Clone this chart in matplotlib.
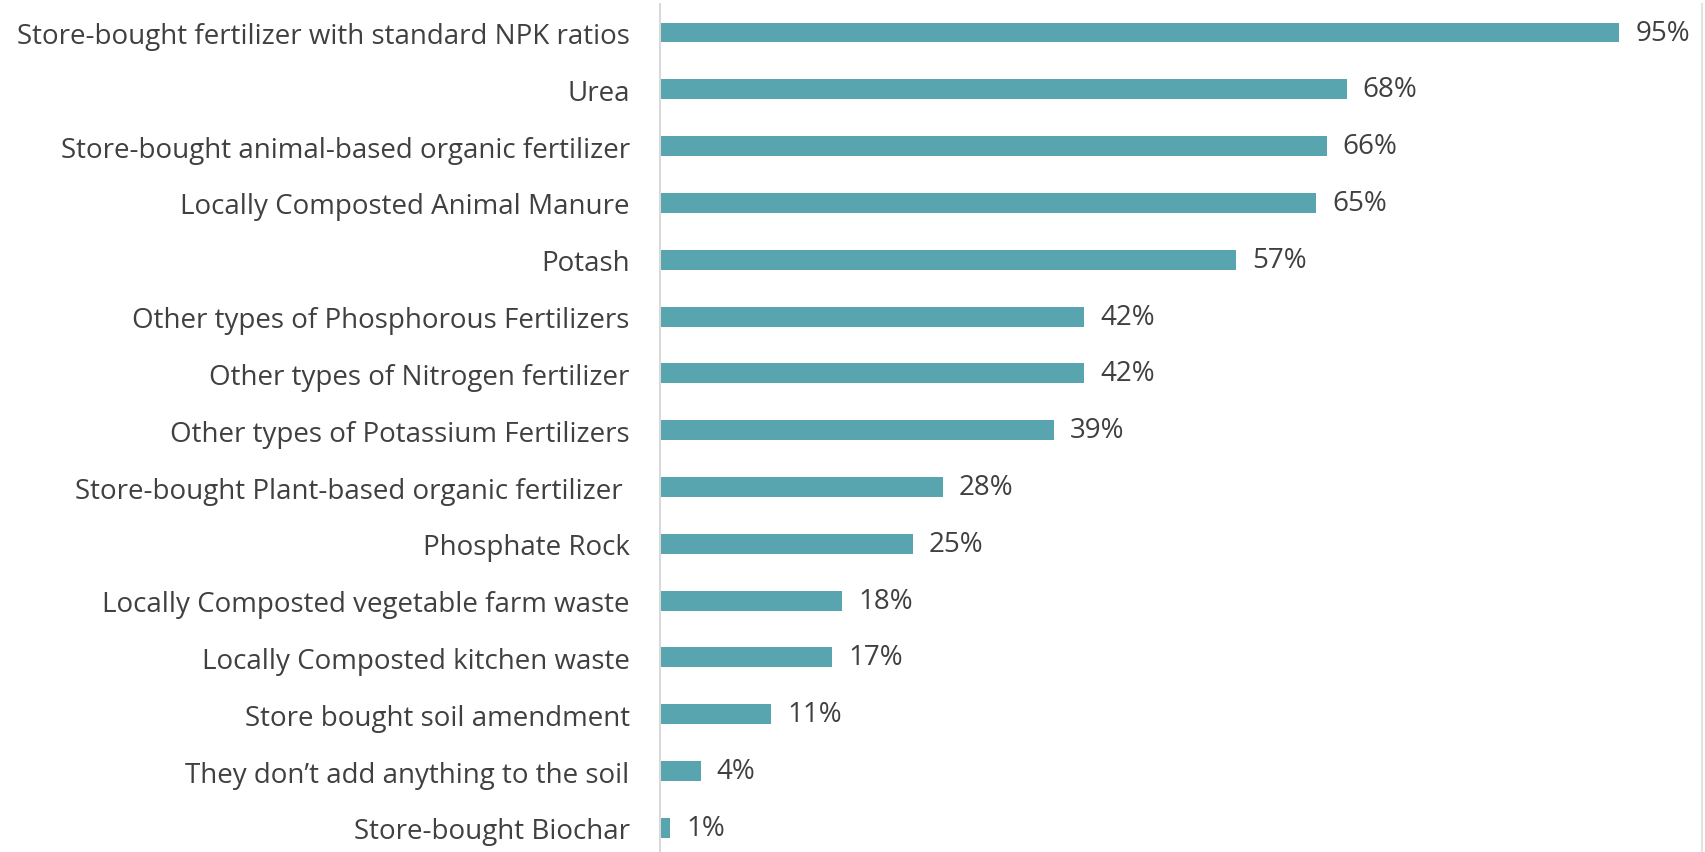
import matplotlib
matplotlib.use("Agg")
import matplotlib.pyplot as plt

# categories top to bottom and share of respondents (%)
categories = [
    "Store-bought fertilizer with standard NPK ratios",
    "Urea",
    "Store-bought animal-based organic fertilizer",
    "Locally Composted Animal Manure",
    "Potash",
    "Other types of Phosphorous Fertilizers",
    "Other types of Nitrogen fertilizer",
    "Other types of Potassium Fertilizers",
    "Store-bought Plant-based organic fertilizer ",
    "Phosphate Rock",
    "Locally Composted vegetable farm waste",
    "Locally Composted kitchen waste",
    "Store bought soil amendment",
    "They don\u2019t add anything to the soil",
    "Store-bought Biochar",
]
values = [95, 68, 66, 65, 57, 42, 42, 39, 28, 25, 18, 17, 11, 4, 1]

plt.rcParams['font.family'] = ['Open Sans', 'DejaVu Sans']
text_color = '#404040'
bar_color = '#58A5B0'

fig = plt.figure(figsize=(17.06, 8.53), dpi=100)
ax = fig.add_axes([0.387, -0.005, 0.6107, 0.999])

pos = list(range(len(categories)))
ax.barh(pos, values, height=0.35, color=bar_color)
for p, v in zip(pos, values):
    ax.text(v + 1.6, p, f"{v}%", va='center', ha='left', fontsize=20, color=text_color)

ax.set_xlim(0, 103.2)
ax.set_ylim(len(categories) - 0.5, -0.5)
ax.set_yticks(pos)
ax.set_yticklabels(categories, fontsize=20, color=text_color)
ax.tick_params(axis='y', length=0, pad=22)
ax.set_xticks([])
for s in ['top', 'bottom']:
    ax.spines[s].set_visible(False)
ax.spines['left'].set_color('#D9D9D9')
ax.spines['left'].set_linewidth(1.5)
ax.spines['right'].set_color('#E3E3E3')
ax.spines['right'].set_linewidth(1.5)

fig.savefig("out.png", dpi=100)
